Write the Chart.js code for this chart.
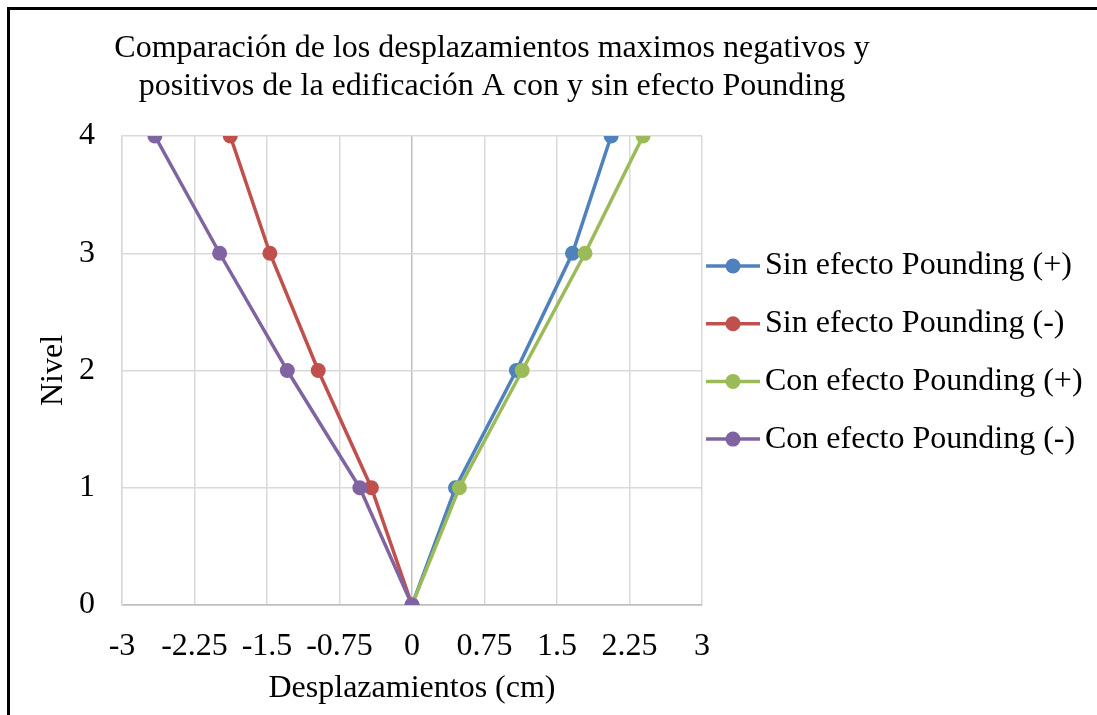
<!DOCTYPE html>
<html lang="es">
<head>
<meta charset="utf-8">
<title>Desplazamientos edificación A</title>
<script src="https://cdn.jsdelivr.net/npm/chart.js@4/dist/chart.umd.min.js"></script>
<style>
  html, body { margin: 0; padding: 0; background: #ffffff; }
  #wrap { position: relative; width: 1097px; height: 715px; }
</style>
</head>
<body>
<div id="wrap"><canvas id="chart"></canvas></div>
<script>
// Niveles de la edificación (eje vertical)
const levels = [0, 1, 2, 3, 4];

// Desplazamientos máximos (cm) por nivel
const sinPos = [0, 0.45, 1.08, 1.66, 2.06];
const sinNeg = [0, -0.42, -0.97, -1.47, -1.88];
const conPos = [0, 0.49, 1.14, 1.79, 2.39];
const conNeg = [0, -0.54, -1.29, -1.99, -2.66];

const seriesNames = [
  'Sin efecto Pounding (+)',
  'Sin efecto Pounding (-)',
  'Con efecto Pounding (+)',
  'Con efecto Pounding (-)'
];
const seriesColors = ['#4F81BD', '#C0504D', '#9BBB59', '#8064A2'];

const xTicks = [-3, -2.25, -1.5, -0.75, 0, 0.75, 1.5, 2.25, 3];
const yTicks = [0, 1, 2, 3, 4];

const titleLines = [
  'Comparación de los desplazamientos maximos negativos y',
  'positivos de la edificación A con y sin efecto Pounding'
];
const xTitle = 'Desplazamientos (cm)';
const yTitle = 'Nivel';

const FONT = "'Liberation Serif', 'Times New Roman', serif";
const FS = 32;

function toPoints(values) {
  return values.map((v, i) => ({ x: v, y: levels[i] }));
}

const seriesValues = [sinPos, sinNeg, conPos, conNeg];
const datasets = seriesValues.map((vals, i) => ({
  label: seriesNames[i],
  data: toPoints(vals),
  showLine: true,
  borderColor: seriesColors[i],
  backgroundColor: seriesColors[i],
  borderWidth: 3.5,
  pointRadius: 7.5,
  pointHoverRadius: 7.5,
  pointBorderWidth: 0,
  order: seriesValues.length - i
}));

// Marco, título y leyenda dibujados sobre el lienzo
const decorations = {
  id: 'decorations',
  beforeDraw(chart) {
    const ctx = chart.ctx;
    ctx.save();
    ctx.fillStyle = '#ffffff';
    ctx.fillRect(0, 0, chart.width, chart.height);
    ctx.fillStyle = '#000000';
    ctx.fillRect(7, 7, chart.width - 7, 3);
    ctx.fillRect(7, 7, 3, chart.height - 7);
    ctx.restore();
  },
  afterDraw(chart) {
    const ctx = chart.ctx;
    ctx.save();
    ctx.fillStyle = '#000000';
    ctx.font = FS + 'px ' + FONT;
    ctx.textAlign = 'center';
    ctx.textBaseline = 'middle';
    titleLines.forEach((t, i) => ctx.fillText(t, 492, 49 + i * 38));

    const ds = chart.data.datasets;
    ds.forEach((d, i) => {
      const y = 266 + i * 57.7;
      ctx.strokeStyle = d.borderColor;
      ctx.lineWidth = 3.5;
      ctx.beginPath();
      ctx.moveTo(706, y);
      ctx.lineTo(760, y);
      ctx.stroke();
      ctx.fillStyle = d.backgroundColor;
      ctx.beginPath();
      ctx.arc(733, y, 7.5, 0, Math.PI * 2);
      ctx.fill();
      ctx.fillStyle = '#000000';
      ctx.textAlign = 'left';
      ctx.fillText(d.label, 765, y);
    });
    ctx.restore();
  }
};

const gridColor = (ctx) => (ctx.tick && ctx.tick.value === 0 ? '#bfbfbf' : '#d9d9d9');

new Chart(document.getElementById('chart'), {
  type: 'scatter',
  data: { datasets },
  options: {
    responsive: true,
    maintainAspectRatio: false,
    devicePixelRatio: 1,
    animation: false,
    layout: { padding: { top: 136, right: 395, left: 0, bottom: 0 } },
    plugins: {
      legend: { display: false },
      title: { display: false },
      tooltip: { enabled: false }
    },
    scales: {
      x: {
        type: 'linear',
        min: -3,
        max: 3,
        afterBuildTicks(scale) { scale.ticks = xTicks.map(v => ({ value: v })); },
        afterFit(scale) { scale.height = 110; },
        ticks: {
          color: '#000000',
          font: { family: FONT, size: FS },
          padding: 22,
          maxRotation: 0,
          autoSkip: false,
          callback: (v) => String(v)
        },
        grid: { color: gridColor, lineWidth: 1.5, drawTicks: false },
        border: { color: '#bfbfbf', width: 1.5 },
        title: {
          display: true,
          text: xTitle,
          color: '#000000',
          font: { family: FONT, size: FS, lineHeight: 1.2 },
          padding: { top: 0, bottom: 7 }
        }
      },
      y: {
        type: 'linear',
        min: 0,
        max: 4,
        afterBuildTicks(scale) { scale.ticks = yTicks.map(v => ({ value: v })); },
        afterFit(scale) { scale.width = 122; },
        ticks: {
          color: '#000000',
          font: { family: FONT, size: FS },
          padding: 27,
          callback: (v) => String(v)
        },
        grid: { color: gridColor, lineWidth: 1.5, drawTicks: false },
        border: { color: '#d9d9d9', width: 1.5 },
        title: {
          display: true,
          text: yTitle,
          color: '#000000',
          font: { family: FONT, size: FS, lineHeight: 1.2 },
          padding: { top: 34, bottom: 0 }
        }
      }
    }
  },
  plugins: [decorations]
});
</script>
</body>
</html>
